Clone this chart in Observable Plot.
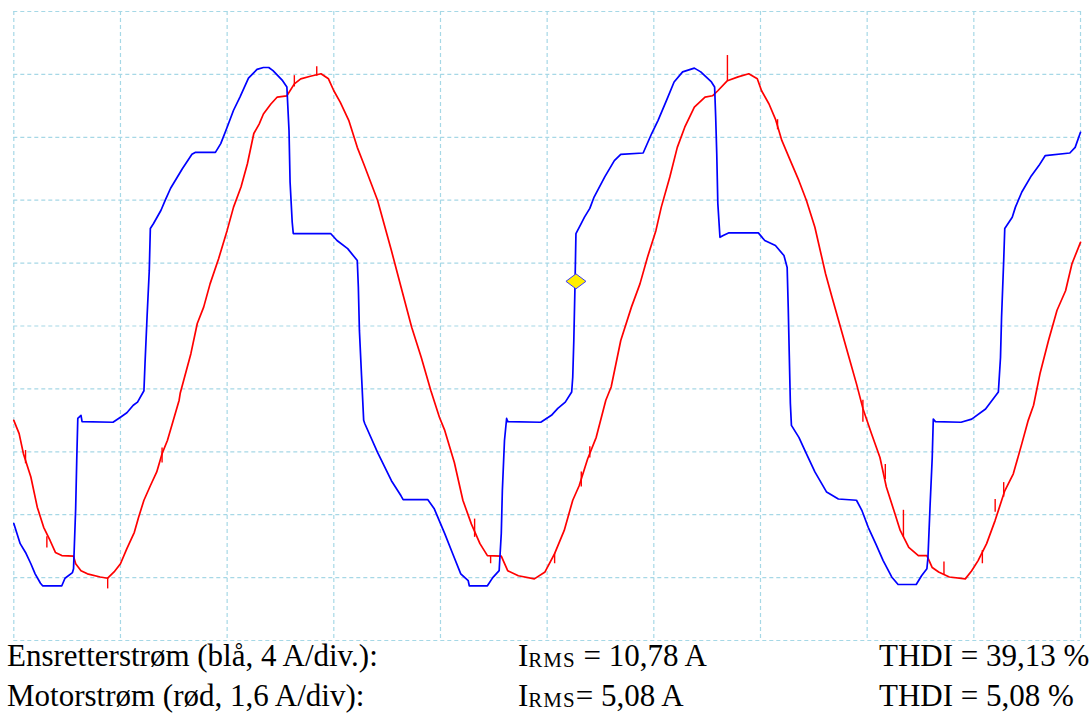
<!DOCTYPE html>
<html><head><meta charset="utf-8">
<script src="https://cdn.jsdelivr.net/npm/d3@7"></script>
<script src="https://cdn.jsdelivr.net/npm/@observablehq/plot@0.6"></script>
<style>
html,body{margin:0;padding:0;background:#fff;}
#wrap{position:relative;width:1092px;height:713px;overflow:hidden;}
#chart{position:absolute;left:0;top:0;}
.t{position:absolute;font-family:"Liberation Serif","Times New Roman",serif;font-size:31px;line-height:31px;color:#000;white-space:pre;}
.t sub{font-size:21px;line-height:0;vertical-align:baseline;position:relative;top:1px;letter-spacing:1px;}
</style></head><body>
<div id="wrap"><div id="chart"></div><div id="caption"></div></div>
<script>
// time axis in divisions (0..10), amplitude in divisions (-5..5)
const xTicks = [0,1,2,3,4,5,6,7,8,9,10];
const yTicks = [-5,-4,-3,-2,-1,0,1,2,3,4,5];

// Blue: Ensretterstrøm (4 A/div)
const blueT = [0.00,0.06,0.11,0.16,0.20,0.25,0.27,0.45,0.48,0.55,0.56,0.58,0.59,0.60,0.63,0.64,0.93,1.00,1.06,1.12,1.16,1.22,1.23,1.25,1.27,1.28,1.31,1.38,1.42,1.47,1.58,1.67,1.70,1.89,1.94,2.00,2.06,2.12,2.20,2.28,2.34,2.39,2.43,2.52,2.56,2.58,2.59,2.61,2.62,2.69,2.97,3.03,3.13,3.22,3.23,3.24,3.26,3.28,3.29,3.41,3.54,3.63,3.65,3.88,3.94,4.04,4.11,4.19,4.26,4.27,4.44,4.49,4.55,4.57,4.58,4.60,4.62,4.63,4.94,5.04,5.10,5.17,5.23,5.24,5.25,5.26,5.27,5.32,5.35,5.40,5.44,5.54,5.63,5.69,5.90,5.98,6.04,6.12,6.19,6.27,6.38,6.44,6.54,6.57,6.58,6.59,6.60,6.62,6.65,6.70,6.98,7.04,7.14,7.22,7.25,7.26,7.27,7.28,7.29,7.36,7.43,7.51,7.62,7.73,7.90,7.95,8.01,8.08,8.15,8.23,8.29,8.46,8.51,8.56,8.57,8.59,8.61,8.62,8.64,8.88,8.98,9.11,9.23,9.25,9.26,9.28,9.29,9.36,9.39,9.45,9.54,9.61,9.67,9.90,9.95,10.00];
const blueV = [-3.14,-3.46,-3.60,-3.78,-3.94,-4.09,-4.13,-4.13,-4.01,-3.92,-3.86,-2.90,-2.14,-1.47,-1.42,-1.52,-1.53,-1.45,-1.38,-1.26,-1.21,-1.03,-0.60,0.17,0.88,1.55,1.63,1.84,2.00,2.19,2.50,2.73,2.76,2.76,2.90,3.16,3.43,3.64,3.94,4.08,4.11,4.11,4.06,3.90,3.80,3.11,2.29,1.65,1.47,1.47,1.47,1.36,1.23,1.04,0.62,-0.07,-0.79,-1.50,-1.55,-2.01,-2.46,-2.70,-2.76,-2.76,-2.90,-3.30,-3.60,-3.94,-4.05,-4.13,-4.13,-4.00,-3.89,-3.30,-2.62,-1.82,-1.47,-1.52,-1.53,-1.42,-1.31,-1.21,-1.05,-0.81,-0.23,0.56,1.47,1.63,1.73,1.87,2.05,2.37,2.63,2.73,2.75,3.06,3.27,3.59,3.88,4.04,4.10,4.04,3.88,3.80,3.32,2.74,1.95,1.41,1.44,1.48,1.48,1.36,1.28,1.12,0.93,0.30,-0.47,-1.23,-1.58,-1.77,-2.03,-2.32,-2.64,-2.75,-2.77,-2.93,-3.20,-3.46,-3.73,-3.99,-4.11,-4.11,-3.97,-3.86,-3.68,-2.85,-2.09,-1.48,-1.52,-1.53,-1.48,-1.32,-1.05,-0.50,0.14,1.04,1.55,1.73,1.89,2.13,2.39,2.55,2.71,2.75,2.84,3.08];

// Red: Motorstrøm (1,6 A/div)
const redT = [0.00,0.05,0.09,0.16,0.22,0.28,0.34,0.39,0.45,0.56,0.58,0.63,0.69,0.81,0.88,0.94,1.00,1.06,1.13,1.17,1.22,1.28,1.34,1.39,1.44,1.49,1.55,1.56,1.66,1.72,1.78,1.84,1.92,2.00,2.06,2.13,2.19,2.25,2.30,2.34,2.41,2.47,2.56,2.63,2.69,2.78,2.88,2.95,3.00,3.06,3.14,3.22,3.28,3.41,3.54,3.63,3.73,3.82,3.91,3.99,4.04,4.13,4.21,4.29,4.37,4.44,4.57,4.63,4.73,4.88,4.98,5.07,5.16,5.24,5.30,5.38,5.46,5.55,5.60,5.69,5.79,5.87,5.94,6.02,6.07,6.15,6.22,6.29,6.38,6.48,6.55,6.60,6.69,6.79,6.89,6.97,7.01,7.08,7.14,7.20,7.28,7.36,7.43,7.51,7.61,7.67,7.75,7.83,7.90,7.96,8.04,8.12,8.18,8.25,8.31,8.39,8.48,8.56,8.61,8.67,8.77,8.92,8.98,9.04,9.12,9.20,9.29,9.37,9.45,9.51,9.56,9.62,9.70,9.78,9.86,9.92,10.00];
const redV = [-1.50,-1.71,-2.03,-2.40,-2.88,-3.20,-3.41,-3.60,-3.65,-3.66,-3.78,-3.89,-3.94,-3.99,-4.01,-3.91,-3.78,-3.54,-3.28,-3.04,-2.77,-2.54,-2.32,-2.03,-1.82,-1.53,-1.18,-1.07,-0.44,0.04,0.30,0.67,1.07,1.52,1.89,2.21,2.58,3.06,3.21,3.37,3.53,3.64,3.66,3.85,3.93,3.97,4.01,3.93,3.74,3.56,3.27,2.84,2.58,2.00,1.20,0.62,-0.02,-0.50,-1.03,-1.45,-1.66,-2.17,-2.77,-3.15,-3.46,-3.65,-3.66,-3.89,-3.97,-4.02,-3.91,-3.62,-3.25,-2.77,-2.54,-2.11,-1.77,-1.18,-0.97,-0.23,0.30,0.67,1.09,1.52,1.89,2.37,2.84,3.16,3.48,3.64,3.66,3.74,3.90,3.96,4.01,3.93,3.74,3.53,3.29,2.95,2.63,2.31,2.00,1.57,0.83,0.46,-0.02,-0.50,-0.92,-1.31,-1.71,-2.09,-2.56,-2.93,-3.25,-3.52,-3.65,-3.65,-3.84,-3.91,-3.99,-4.02,-3.89,-3.73,-3.46,-3.09,-2.62,-2.35,-1.87,-1.50,-1.26,-0.76,-0.23,0.25,0.56,0.99,1.33];

// glitch spikes on the red trace
const spikeT  = [0.11,0.31,0.88,1.39,2.63,2.84,4.32,4.47,5.07,5.32,5.40,6.69,7.16,7.96,8.17,8.34,8.72,9.08,9.20,9.28];
const spikeV1 = [-1.98,-3.35,-4.01,-1.94,3.98,4.12,-3.07,-3.65,-3.62,-2.32,-1.92,4.30,3.28,-1.18,-2.20,-2.93,-3.75,-3.57,-2.76,-2.49];
const spikeV2 = [-2.19,-3.53,-4.18,-2.18,3.80,3.97,-3.36,-3.78,-3.78,-2.56,-2.10,3.90,3.12,-1.53,-2.44,-3.36,-3.95,-3.78,-2.96,-2.72];

// trigger marker
const markerT = [5.27];
const markerV = [0.71];

const blue = blueT.map((t, i) => ({t, v: blueV[i]}));
const red = redT.map((t, i) => ({t, v: redV[i]}));
const spikes = spikeT.map((t, i) => ({t, v1: spikeV1[i], v2: spikeV2[i]}));
const marker = markerT.map((t, i) => ({t, v: markerV[i]}));

const wideDiamond = {
  draw(ctx, size) {
    const r = Math.sqrt(size / Math.PI);
    const w = r, h = r * 0.75;
    ctx.moveTo(0, -h); ctx.lineTo(w, 0); ctx.lineTo(0, h); ctx.lineTo(-w, 0); ctx.closePath();
  }
};

const gridColor = "#a6d8e6";
const chart = Plot.plot({
  width: 1092, height: 643,
  marginLeft: 13.3, marginRight: 12, marginTop: 11, marginBottom: 3,
  x: {domain: [0, 10], axis: null},
  y: {domain: [-5, 5], axis: null},
  style: {background: "#ffffff", overflow: "visible"},
  marks: [
    Plot.ruleX(xTicks, {stroke: gridColor, strokeWidth: 1.2, strokeDasharray: "4,3"}),
    Plot.ruleY(yTicks, {stroke: gridColor, strokeWidth: 1.2, strokeDasharray: "4,3"}),
    Plot.line(red, {x: "t", y: "v", stroke: "#ff0000", strokeWidth: 1.7}),
    Plot.ruleX(spikes, {x: "t", y1: "v1", y2: "v2", stroke: "#ff0000", strokeWidth: 1.4}),
    Plot.line(blue, {x: "t", y: "v", stroke: "#0000ff", strokeWidth: 1.7}),
    Plot.dot(marker, {x: "t", y: "v", symbol: wideDiamond, r: 10, fill: "#ffee00", stroke: "#3a3aff", strokeWidth: 1})
  ]
});
document.getElementById("chart").appendChild(chart);

// caption rows
const labels = ["Ensretterstrøm (blå, 4 A/div.):", "Motorstrøm (rød, 1,6 A/div):"];
const rmsTexts = [" = 10,78 A", "= 5,08 A"];
const thdiTexts = ["THDI = 39,13 %", "THDI = 5,08 %"];
const rowTops = [640, 680];
const cap = document.getElementById("caption");
labels.forEach((lab, i) => {
  const a = document.createElement("div"); a.className = "t"; a.style.left = "7px"; a.style.top = rowTops[i] + "px";
  a.textContent = lab; cap.appendChild(a);
  const b = document.createElement("div"); b.className = "t"; b.style.left = "518px"; b.style.top = rowTops[i] + "px";
  b.innerHTML = "I<sub>RMS</sub>" + rmsTexts[i]; cap.appendChild(b);
  const c = document.createElement("div"); c.className = "t"; c.style.left = "879px"; c.style.top = rowTops[i] + "px";
  c.textContent = thdiTexts[i]; cap.appendChild(c);
});
</script>
</body></html>
